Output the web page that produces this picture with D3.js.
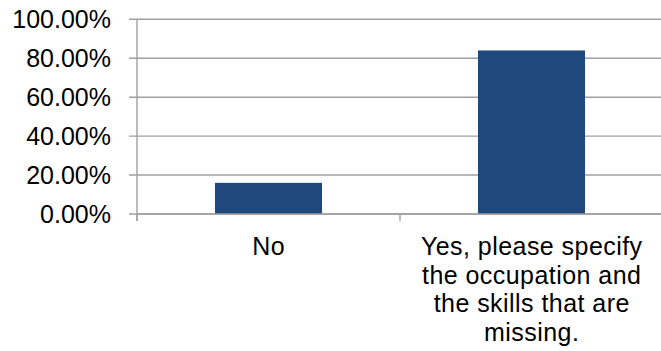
<!DOCTYPE html>
<html>
<head>
<meta charset="utf-8">
<script src="https://cdn.jsdelivr.net/npm/d3@7/dist/d3.min.js"></script>
<style>
  html, body { margin: 0; padding: 0; background: #fff; }
  svg { display: block; }
  text { font-family: "Liberation Sans", Arial, sans-serif; fill: #000; }
</style>
</head>
<body>
<svg id="chart" width="661" height="351"></svg>
<script>
const categories = ["No", "Yes, please specify the occupation and the skills that are missing."];
const values = [0.16, 0.84];
const yTicks = [0, 0.2, 0.4, 0.6, 0.8, 1.0];

(function () {
const svg = d3.select("#chart");
const plotLeft = 137, plotRight = 663, plotTop = 19.3, plotBottom = 214;
const fontSize = 25;

const x = d3.scaleBand().domain(categories).range([plotLeft, plotRight])
  .paddingInner(0.593).paddingOuter(0.2965);
const y = d3.scaleLinear().domain([0, 1]).range([plotBottom, plotTop]);
const fmt = d3.format(".2%");
const gridColor = "#a0a0a0";

// gridlines
svg.append("g").selectAll("line").data(yTicks).join("line")
  .attr("x1", plotLeft - 8).attr("x2", plotRight)
  .attr("y1", d => y(d)).attr("y2", d => y(d))
  .attr("stroke", gridColor).attr("stroke-width", 1.4);

// y axis line
svg.append("line").attr("x1", plotLeft).attr("x2", plotLeft)
  .attr("y1", y(1)).attr("y2", plotBottom + 7)
  .attr("stroke", gridColor).attr("stroke-width", 1.4);

// x category tick marks (band boundaries)
const step = x.step();
const bounds = [plotLeft, plotLeft + step, plotLeft + 2 * step];
svg.append("g").selectAll("line").data(bounds).join("line")
  .attr("x1", d => d).attr("x2", d => d)
  .attr("y1", plotBottom).attr("y2", plotBottom + 7)
  .attr("stroke", gridColor).attr("stroke-width", 1.4);

// y tick labels
svg.append("g").selectAll("text").data(yTicks).join("text")
  .attr("x", 111).attr("y", d => y(d))
  .attr("dy", "0.35em")
  .attr("text-anchor", "end")
  .style("font-size", fontSize + "px")
  .text(d => fmt(d));

// bars
svg.append("g").selectAll("rect").data(values).join("rect")
  .attr("x", (d, i) => x(categories[i]))
  .attr("width", x.bandwidth())
  .attr("y", d => y(d))
  .attr("height", d => plotBottom - y(d))
  .attr("fill", "#1f497d");

// baseline on top
svg.append("line").attr("x1", plotLeft).attr("x2", plotRight)
  .attr("y1", plotBottom).attr("y2", plotBottom)
  .attr("stroke", gridColor).attr("stroke-width", 1.4);

// category labels with wrapping
const maxW = 240, lineH = 28.5, ls = 0.45;
categories.forEach(c => {
  const cx = x(c) + x.bandwidth() / 2;
  const t = svg.append("text").attr("text-anchor", "middle")
    .style("font-size", fontSize + "px")
    .style("letter-spacing", ls + "px");
  const words = c.split(" ");
  let lines = [], cur = [];
  const probe = svg.append("text").style("font-size", fontSize + "px")
    .style("letter-spacing", ls + "px");
  words.forEach(w => {
    const test = cur.concat([w]).join(" ");
    probe.text(test);
    if (cur.length && probe.node().getComputedTextLength() > maxW) {
      lines.push(cur.join(" "));
      cur = [w];
    } else cur.push(w);
  });
  if (cur.length) lines.push(cur.join(" "));
  probe.remove();
  lines.forEach((l, i) => {
    t.append("tspan").attr("x", cx + ls / 2).attr("y", 255 + i * lineH).text(l);
  });
});
})();
</script>
</body>
</html>
